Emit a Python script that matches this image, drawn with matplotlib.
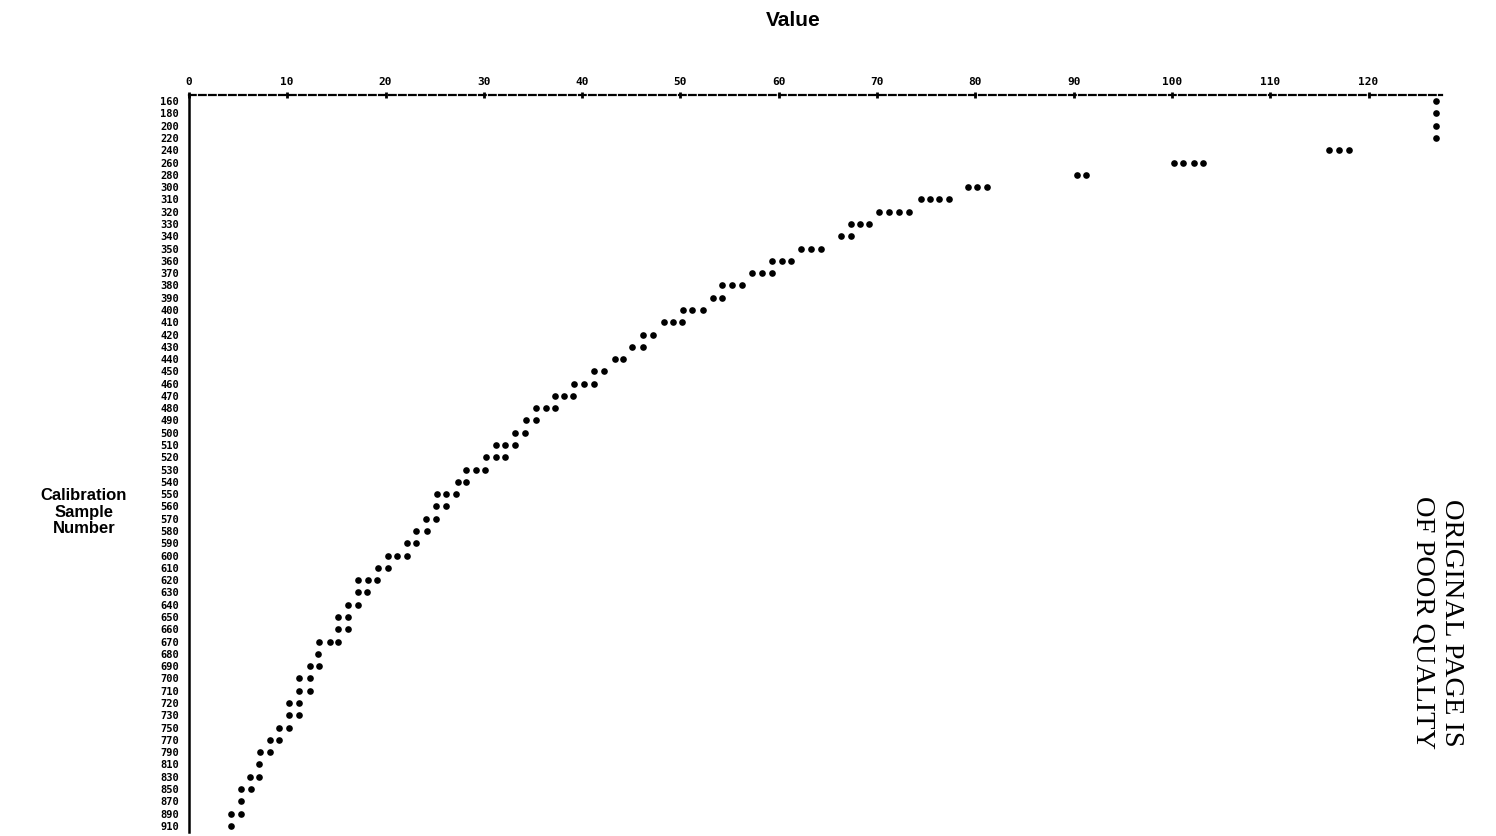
import matplotlib
matplotlib.use('Agg')
import matplotlib.pyplot as plt

# 1 - Data (one row per calibration sample label)

sample_labels = [160, 180, 200, 220, 240, 260, 280, 300, 310, 320, 330, 340,
                 350, 360, 370, 380, 390, 400, 410, 420, 430, 440, 450, 460,
                 470, 480, 490, 500, 510, 520, 530, 540, 550, 560, 570, 580,
                 590, 600, 610, 620, 630, 640, 650, 660, 670, 680, 690, 700,
                 710, 720, 730, 750, 770, 790, 810, 830, 850, 870, 890, 910]

row_values = [
    [126.9], [126.9], [126.9], [126.9],
    [116.0, 117.0, 118.0],
    [100.2, 101.1, 102.2, 103.2],
    [90.3, 91.3],
    [79.3, 80.2, 81.2],
    [74.5, 75.4, 76.3, 77.3],
    [70.2, 71.2, 72.2, 73.3],
    [67.3, 68.3, 69.2],
    [66.3, 67.3],
    [62.3, 63.3, 64.3],
    [59.3, 60.3, 61.2],
    [57.3, 58.3, 59.3],
    [54.2, 55.2, 56.3],
    [53.3, 54.2],
    [50.3, 51.2, 52.3],
    [48.3, 49.2, 50.2],
    [46.2, 47.2],
    [45.1, 46.2],
    [43.3, 44.2],
    [41.2, 42.2],
    [39.2, 40.2, 41.2],
    [37.2, 38.2, 39.1],
    [35.3, 36.3, 37.2],
    [34.3, 35.3],
    [33.2, 34.2],
    [31.2, 32.2, 33.2],
    [30.2, 31.2, 32.2],
    [28.2, 29.2, 30.1],
    [27.4, 28.2],
    [25.2, 26.2, 27.2],
    [25.1, 26.2],
    [24.1, 25.1],
    [23.1, 24.2],
    [22.2, 23.1],
    [20.2, 21.2, 22.2],
    [19.2, 20.2],
    [17.2, 18.2, 19.1],
    [17.2, 18.1],
    [16.2, 17.2],
    [15.2, 16.2],
    [15.2, 16.2],
    [13.2, 14.3, 15.2],
    [13.1],
    [12.3, 13.2],
    [11.2, 12.3],
    [11.2, 12.3],
    [10.2, 11.2],
    [10.2, 11.2],
    [9.2, 10.2],
    [8.2, 9.2],
    [7.2, 8.2],
    [7.1],
    [6.2, 7.1],
    [5.3, 6.3],
    [5.3],
    [4.3, 5.3],
    [4.3],
]

x_ticks = [0, 10, 20, 30, 40, 50, 60, 70, 80, 90, 100, 110, 120]

# 2 - Flatten rows into points

xs = []
ys = []
for i, vals in enumerate(row_values):
    for v in vals:
        xs.append(v)
        ys.append(i)

# 3 - Plot

fig = plt.figure(figsize=(14.96, 8.36), dpi=100)
ax = fig.add_axes([0.1263, 0.0048, 0.8378, 0.8816])

ax.plot(xs, ys, 'o', color='black', markersize=4.8, markeredgewidth=0)

ax.set_xlim(0, 127.5)
ax.set_ylim(len(sample_labels) - 0.5, -0.5)

ax.xaxis.tick_top()
ax.set_xticks(x_ticks)
ax.set_xticklabels([str(t) for t in x_ticks], fontsize=8, fontweight='bold',
                   family='DejaVu Sans Mono')
ax.tick_params(axis='x', direction='inout', length=5, width=2, pad=3)

ax.set_yticks(range(len(sample_labels)))
ax.set_yticklabels([str(s) for s in sample_labels], fontsize=7.5,
                   fontweight='bold', family='DejaVu Sans Mono')
ax.tick_params(axis='y', length=0, pad=7)

ax.spines['right'].set_visible(False)
ax.spines['bottom'].set_visible(False)
ax.spines['top'].set_linestyle((0, (3, 1.5)))
ax.spines['top'].set_linewidth(1.6)
ax.spines['left'].set_linewidth(1.8)

fig.text(793 / 1496, 1 - 20 / 836, 'Value', ha='center', va='center',
         fontsize=15, fontweight='bold', family='Liberation Sans')
fig.text(84 / 1496, 1 - 512 / 836, 'Calibration\nSample\nNumber',
         ha='center', va='center', fontsize=12, fontweight='bold',
         family='Liberation Sans', linespacing=1.15)
fig.text(1437 / 1496, 1 - 623 / 836, 'ORIGINAL PAGE IS\nOF POOR QUALITY',
         ha='center', va='center', rotation=-90, fontsize=20.5,
         family='Liberation Serif', linespacing=1.2)

plt.savefig('out.png', dpi=100)
